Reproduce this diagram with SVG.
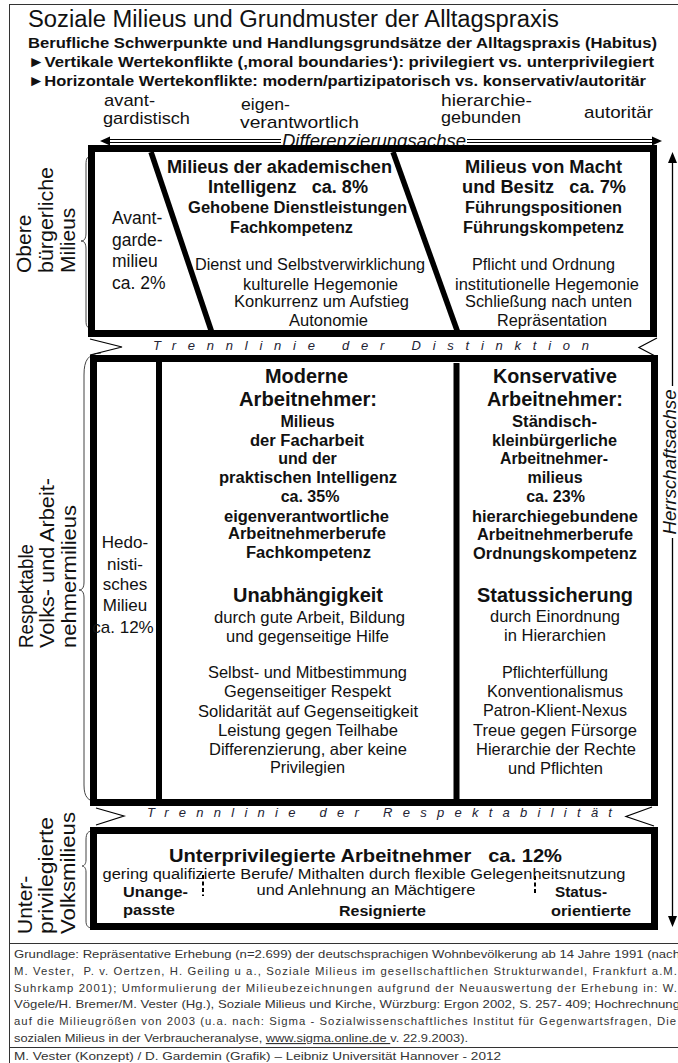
<svg xmlns="http://www.w3.org/2000/svg" width="678" height="1063" viewBox="0 0 678 1063">
<defs>
<style>
text{font-family:"Liberation Sans",Arial,"DejaVu Sans",sans-serif;fill:#111}
.b{font-weight:bold}
.c{text-anchor:middle}
.i{font-style:italic}
.box{fill:none;stroke:#000;stroke-width:7}
.dv{stroke:#000;stroke-width:6}
.diag{stroke:#000;stroke-width:5.5}
.thin{fill:none;stroke:#000;stroke-width:1.2}
.frame{fill:none;stroke:#333;stroke-width:1}
.brace{fill:none;stroke:#444;stroke-width:1}
.h{font-size:16px}
.r{font-size:16.5px}
.bb{font-size:16px;font-weight:bold}
.big{font-size:20px;font-weight:bold}
.lab{font-size:21px}
.ax{font-size:17px}
.sep{font-size:13px;font-style:italic;fill:#223}
.ft{font-size:11.3px;fill:#333}
</style>
</defs>

<g id="frame">
<line class="frame" x1="9.5" y1="4" x2="9.5" y2="1063"/>
<line class="frame" x1="9" y1="4.5" x2="678" y2="4.5"/>
<line class="frame" x1="9" y1="943.5" x2="678" y2="943.5"/>
<line class="frame" x1="9" y1="1047.5" x2="678" y2="1047.5"/>
</g>

<g id="header">
<text x="28" y="27" font-size="23.5" textLength="531" lengthAdjust="spacingAndGlyphs">Soziale Milieus und Grundmuster der Alltagspraxis</text>
<text x="28" y="48" class="b" font-size="15.5" textLength="629" lengthAdjust="spacingAndGlyphs">Berufliche Schwerpunkte und Handlungsgrundsätze der Alltagspraxis (Habitus)</text>
<text x="28" y="67" class="b" font-size="15.5" textLength="626" lengthAdjust="spacingAndGlyphs">►Vertikale Wertekonflikte (‚moral boundaries‘): privilegiert vs. unterprivilegiert</text>
<text x="28" y="86" class="b" font-size="15.5" textLength="618" lengthAdjust="spacingAndGlyphs">►Horizontale Wertekonflikte: modern/partizipatorisch vs. konservativ/autoritär</text>
</g>

<g id="axis-labels">
<text x="104" y="106" class="ax" textLength="51" lengthAdjust="spacingAndGlyphs">avant-</text>
<text x="103" y="124" class="ax" textLength="87" lengthAdjust="spacingAndGlyphs">gardistisch</text>
<text x="241" y="110" class="ax" textLength="49" lengthAdjust="spacingAndGlyphs">eigen-</text>
<text x="240" y="128" class="ax" textLength="119" lengthAdjust="spacingAndGlyphs">verantwortlich</text>
<text x="441" y="106" class="ax" textLength="91" lengthAdjust="spacingAndGlyphs">hierarchie-</text>
<text x="441" y="123" class="ax" textLength="80" lengthAdjust="spacingAndGlyphs">gebunden</text>
<text x="584" y="118" class="ax" textLength="69" lengthAdjust="spacingAndGlyphs">autoritär</text>
</g>

<g id="connectors">
<line class="thin" x1="108" y1="139.5" x2="654" y2="139.5"/>
<line class="thin" x1="108" y1="142.5" x2="654" y2="142.5"/>
<polygon points="100,141 110,136.5 110,145.5" fill="#000"/>
<polygon points="662,141 652,136.5 652,145.5" fill="#000"/>
<line x1="672.5" y1="160" x2="672.5" y2="918" stroke="#000" stroke-width="1.3"/>
<polygon points="672.5,152 668,163 677,163" fill="#000"/>
<polygon points="672.5,927 668,916 677,916" fill="#000"/>
<path class="brace" d="M 93 156 C 87 156 86 158 86 165 L 86 233 C 86 239 84 241 81 241 C 84 241 86 243 86 249 L 86 320 C 86 327 87 328 93 328"/>
<path class="brace" d="M 101 353 C 88 354 84 360 84 375 L 84 582 C 84 588 82 590 79 590 C 82 590 84 592 84 598 L 84 785 C 84 797 88 801 97 802"/>
<path class="brace" d="M 93 831 C 88 831 86 833 86 840 L 86 860 C 86 864 84 866 82 866 C 84 866 86 868 86 872 L 86 921 C 86 926 88 928 93 928"/>
</g>

<g id="axis-titles">
<rect x="281" y="132" width="186" height="15" fill="#fff"/>
<text x="374" y="147" class="c i" font-size="18" textLength="184" lengthAdjust="spacingAndGlyphs">Differenzierungsachse</text>
<rect x="662" y="386" width="16" height="152" fill="#fff"/>
<text transform="translate(676,462) rotate(-90)" class="c i" font-size="18" textLength="145" lengthAdjust="spacingAndGlyphs">Herrschaftsachse</text>
</g>

<g id="side-labels">
<text transform="translate(31,273) rotate(-90)" class="lab">Obere</text>
<text transform="translate(53,273) rotate(-90)" class="lab" textLength="106" lengthAdjust="spacingAndGlyphs">bürgerliche</text>
<text transform="translate(75,273) rotate(-90)" class="lab">Milieus</text>
<text transform="translate(33,648) rotate(-90)" class="lab" textLength="104" lengthAdjust="spacingAndGlyphs">Respektable</text>
<text transform="translate(54,648) rotate(-90)" class="lab" textLength="170" lengthAdjust="spacingAndGlyphs">Volks- und Arbeit-</text>
<text transform="translate(76,648) rotate(-90)" class="lab" textLength="143" lengthAdjust="spacingAndGlyphs">nehmermilieus</text>
<text transform="translate(32,934) rotate(-90)" class="lab">Unter-</text>
<text transform="translate(53,934) rotate(-90)" class="lab" textLength="117" lengthAdjust="spacingAndGlyphs">privilegierte</text>
<text transform="translate(75,934) rotate(-90)" class="lab" textLength="122" lengthAdjust="spacingAndGlyphs">Volksmilieus</text>
</g>

<g id="box-obere">
<rect class="box" x="91.5" y="148.5" width="562" height="185"/>
<line class="diag" x1="151" y1="152" x2="212" y2="333"/>
<line class="diag" x1="393" y1="152" x2="458" y2="333"/>
</g>

<g id="milieu-avantgarde">
<text x="112" y="224" font-size="17.5">Avant-</text>
<text x="112" y="246" font-size="17.5">garde-</text>
<text x="112" y="267" font-size="17.5">milieu</text>
<text x="112" y="289" font-size="17.5">ca. 2%</text>
</g>

<g id="milieu-akademisch">
<text x="279.5" y="173" class="c b" font-size="18" textLength="225" lengthAdjust="spacingAndGlyphs">Milieus der akademischen</text>
<text x="288" y="193" class="c b" font-size="18" textLength="160" lengthAdjust="spacingAndGlyphs" xml:space="preserve">Intelligenz   ca. 8%</text>
<text x="297.5" y="213" class="c bb" textLength="219" lengthAdjust="spacingAndGlyphs">Gehobene Dienstleistungen</text>
<text x="291.5" y="233" class="c bb" textLength="123" lengthAdjust="spacingAndGlyphs">Fachkompetenz</text>
<text x="310" y="270" class="c h" textLength="230" lengthAdjust="spacingAndGlyphs">Dienst und Selbstverwirklichung</text>
<text x="320.5" y="290" class="c h" textLength="155" lengthAdjust="spacingAndGlyphs">kulturelle Hegemonie</text>
<text x="321.5" y="307" class="c h" textLength="175" lengthAdjust="spacingAndGlyphs">Konkurrenz um Aufstieg</text>
<text x="328.5" y="326" class="c h" textLength="79" lengthAdjust="spacingAndGlyphs">Autonomie</text>
</g>

<g id="milieu-macht">
<text x="543.5" y="173" class="c b" font-size="18" textLength="157" lengthAdjust="spacingAndGlyphs">Milieus von Macht</text>
<text x="544" y="193" class="c b" font-size="18" textLength="164" lengthAdjust="spacingAndGlyphs" xml:space="preserve">und Besitz   ca. 7%</text>
<text x="543.5" y="213" class="c bb" textLength="157" lengthAdjust="spacingAndGlyphs">Führungspositionen</text>
<text x="543.5" y="233" class="c bb" textLength="161" lengthAdjust="spacingAndGlyphs">Führungskompetenz</text>
<text x="543.5" y="270" class="c h" textLength="143" lengthAdjust="spacingAndGlyphs">Pflicht und Ordnung</text>
<text x="547" y="290" class="c h" textLength="184" lengthAdjust="spacingAndGlyphs">institutionelle Hegemonie</text>
<text x="548.5" y="307" class="c h" textLength="167" lengthAdjust="spacingAndGlyphs">Schließung nach unten</text>
<text x="552" y="326" class="c h" textLength="110" lengthAdjust="spacingAndGlyphs">Repräsentation</text>
</g>

<g id="trennlinie-distinktion">
<polyline class="thin" points="90,339 122,347 90,355"/>
<polyline class="thin" points="657,338 639,347.5 657,357"/>
<text x="153" y="350" class="sep" textLength="436" lengthAdjust="spacing">Trennlinie der Distinktion</text>
</g>

<g id="box-respektable">
<rect class="box" x="93.5" y="358.5" width="561" height="444"/>
<line class="dv" x1="159" y1="360" x2="159" y2="800"/>
<line class="dv" x1="456.5" y1="363" x2="456.5" y2="800"/>
</g>

<g id="milieu-hedonistisch">
<text x="125" y="548" class="c" font-size="17">Hedo-</text>
<text x="125" y="570" class="c" font-size="17">nisti-</text>
<text x="125" y="590" class="c" font-size="17">sches</text>
<text x="125" y="611" class="c" font-size="17">Milieu</text>
<text x="123" y="633" class="c" font-size="17">ca. 12%</text>
</g>

<g id="milieu-modern">
<text x="306.5" y="383" class="c big" textLength="83" lengthAdjust="spacingAndGlyphs">Moderne</text>
<text x="308" y="406" class="c big" textLength="138" lengthAdjust="spacingAndGlyphs">Arbeitnehmer:</text>
<text x="307.5" y="427" class="c bb">Milieus</text>
<text x="307" y="446" class="c bb" textLength="114" lengthAdjust="spacingAndGlyphs">der Facharbeit</text>
<text x="307.5" y="464" class="c bb">und der</text>
<text x="308" y="483" class="c bb" textLength="178" lengthAdjust="spacingAndGlyphs">praktischen Intelligenz</text>
<text x="310" y="502" class="c bb">ca. 35%</text>
<text x="306.5" y="522" class="c bb" textLength="165" lengthAdjust="spacingAndGlyphs">eigenverantwortliche</text>
<text x="307" y="539" class="c bb" textLength="158" lengthAdjust="spacingAndGlyphs">Arbeitnehmerberufe</text>
<text x="308.5" y="558" class="c bb" textLength="125" lengthAdjust="spacingAndGlyphs">Fachkompetenz</text>
<text x="308" y="602" class="c big" textLength="150" lengthAdjust="spacingAndGlyphs">Unabhängigkeit</text>
<text x="309.5" y="623" class="c r" textLength="191" lengthAdjust="spacingAndGlyphs">durch gute Arbeit, Bildung</text>
<text x="307.5" y="642" class="c r" textLength="163" lengthAdjust="spacingAndGlyphs">und gegenseitige Hilfe</text>
<text x="307.5" y="678" class="c r" textLength="199" lengthAdjust="spacingAndGlyphs">Selbst- und Mitbestimmung</text>
<text x="307.5" y="697" class="c r" textLength="167" lengthAdjust="spacingAndGlyphs">Gegenseitiger Respekt</text>
<text x="308" y="717" class="c r" textLength="220" lengthAdjust="spacingAndGlyphs">Solidarität auf Gegenseitigkeit</text>
<text x="308" y="736" class="c r" textLength="180" lengthAdjust="spacingAndGlyphs">Leistung gegen Teilhabe</text>
<text x="308" y="755" class="c r" textLength="198" lengthAdjust="spacingAndGlyphs">Differenzierung, aber keine</text>
<text x="307.5" y="773" class="c r" textLength="75" lengthAdjust="spacingAndGlyphs">Privilegien</text>
</g>

<g id="milieu-konservativ">
<text x="555" y="383" class="c big" textLength="124" lengthAdjust="spacingAndGlyphs">Konservative</text>
<text x="555" y="406" class="c big" textLength="136" lengthAdjust="spacingAndGlyphs">Arbeitnehmer:</text>
<text x="554.5" y="427" class="c bb" textLength="85" lengthAdjust="spacingAndGlyphs">Ständisch-</text>
<text x="554.5" y="446" class="c bb" textLength="125" lengthAdjust="spacingAndGlyphs">kleinbürgerliche</text>
<text x="554" y="464" class="c bb" textLength="108" lengthAdjust="spacingAndGlyphs">Arbeitnehmer-</text>
<text x="555" y="483" class="c bb">milieus</text>
<text x="555.5" y="502" class="c bb">ca. 23%</text>
<text x="555" y="522" class="c bb" textLength="166" lengthAdjust="spacingAndGlyphs">hierarchiegebundene</text>
<text x="555" y="540" class="c bb" textLength="156" lengthAdjust="spacingAndGlyphs">Arbeitnehmerberufe</text>
<text x="555" y="559" class="c bb" textLength="164" lengthAdjust="spacingAndGlyphs">Ordnungskompetenz</text>
<text x="555" y="602" class="c big" textLength="156" lengthAdjust="spacingAndGlyphs">Statussicherung</text>
<text x="555" y="622" class="c r" textLength="130" lengthAdjust="spacingAndGlyphs">durch Einordnung</text>
<text x="555" y="641" class="c r" textLength="102" lengthAdjust="spacingAndGlyphs">in Hierarchien</text>
<text x="555" y="678" class="c r" textLength="106" lengthAdjust="spacingAndGlyphs">Pflichterfüllung</text>
<text x="555" y="697" class="c r" textLength="136" lengthAdjust="spacingAndGlyphs">Konventionalismus</text>
<text x="555" y="716" class="c r" textLength="144" lengthAdjust="spacingAndGlyphs">Patron-Klient-Nexus</text>
<text x="555" y="736" class="c r" textLength="164" lengthAdjust="spacingAndGlyphs">Treue gegen Fürsorge</text>
<text x="556" y="755" class="c r" textLength="160" lengthAdjust="spacingAndGlyphs">Hierarchie der Rechte</text>
<text x="555.5" y="774" class="c r" textLength="95" lengthAdjust="spacingAndGlyphs">und Pflichten</text>
</g>

<g id="trennlinie-respektabilitaet">
<polyline class="thin" points="96,808 124,816 96,825"/>
<polyline class="thin" points="652,807 626,816.5 654,826"/>
<text x="147" y="817" class="sep" textLength="465" lengthAdjust="spacing">Trennlinie der Respektabilität</text>
</g>

<g id="box-unterprivilegiert">
<rect class="box" x="93.5" y="830.5" width="561" height="96"/>
<line x1="203" y1="875" x2="203" y2="896" stroke="#000" stroke-width="2" stroke-dasharray="4 2.5"/>
<line x1="535" y1="876" x2="535" y2="894" stroke="#000" stroke-width="2" stroke-dasharray="4 2.5"/>
<text x="365.5" y="862" class="c b" font-size="19" textLength="393" lengthAdjust="spacingAndGlyphs" xml:space="preserve">Unterprivilegierte Arbeitnehmer   ca. 12%</text>
<text x="364" y="879" class="c" font-size="15.5" textLength="523" lengthAdjust="spacingAndGlyphs">gering qualifizierte Berufe/ Mithalten durch flexible Gelegenheitsnutzung</text>
<text x="366" y="895" class="c" font-size="15.5" textLength="219" lengthAdjust="spacingAndGlyphs">und Anlehnung an Mächtigere</text>
<text x="123" y="897" class="b" font-size="14.5" textLength="65" lengthAdjust="spacingAndGlyphs">Unange-</text>
<text x="123" y="915" class="b" font-size="14.5" textLength="52" lengthAdjust="spacingAndGlyphs">passte</text>
<text x="382.5" y="916" class="c b" font-size="14.5" textLength="87" lengthAdjust="spacingAndGlyphs">Resignierte</text>
<text x="555" y="897" class="b" font-size="14.5" textLength="52" lengthAdjust="spacingAndGlyphs">Status-</text>
<text x="551" y="916" class="b" font-size="14.5" textLength="80" lengthAdjust="spacingAndGlyphs">orientierte</text>
</g>

<g id="footer">
<text x="14" y="958" class="ft" textLength="666" lengthAdjust="spacingAndGlyphs">Grundlage: Repräsentative Erhebung (n=2.699) der deutschsprachigen Wohnbevölkerung ab 14 Jahre 1991 (nach</text>
<text x="14" y="975" class="ft" textLength="663" lengthAdjust="spacing" xml:space="preserve">M. Vester,  P. v. Oertzen, H. Geiling u a., Soziale Milieus im gesellschaftlichen Strukturwandel, Frankfurt a.M.</text>
<text x="14" y="992" class="ft" textLength="663" lengthAdjust="spacing">Suhrkamp 2001); Umformulierung der Milieubezeichnungen aufgrund der Neuauswertung der Erhebung in: W.</text>
<text x="14" y="1008" class="ft" textLength="666" lengthAdjust="spacingAndGlyphs">Vögele/H. Bremer/M. Vester (Hg.), Soziale Milieus und Kirche, Würzburg: Ergon 2002, S. 257- 409; Hochrechnung</text>
<text x="14" y="1025" class="ft" textLength="662" lengthAdjust="spacing">auf die Milieugrößen von 2003 (u.a. nach: Sigma - Sozialwissenschaftliches Institut für Gegenwartsfragen, Die</text>
<text x="14" y="1042" class="ft" textLength="454" lengthAdjust="spacingAndGlyphs">sozialen Milieus in der Verbraucheranalyse, <tspan text-decoration="underline">www.sigma.online.de </tspan>v. 22.9.2003).</text>
<text x="14" y="1060" class="ft" textLength="487" lengthAdjust="spacingAndGlyphs">M. Vester (Konzept) / D. Gardemin (Grafik) – Leibniz Universität Hannover - 2012</text>
</g>
</svg>
